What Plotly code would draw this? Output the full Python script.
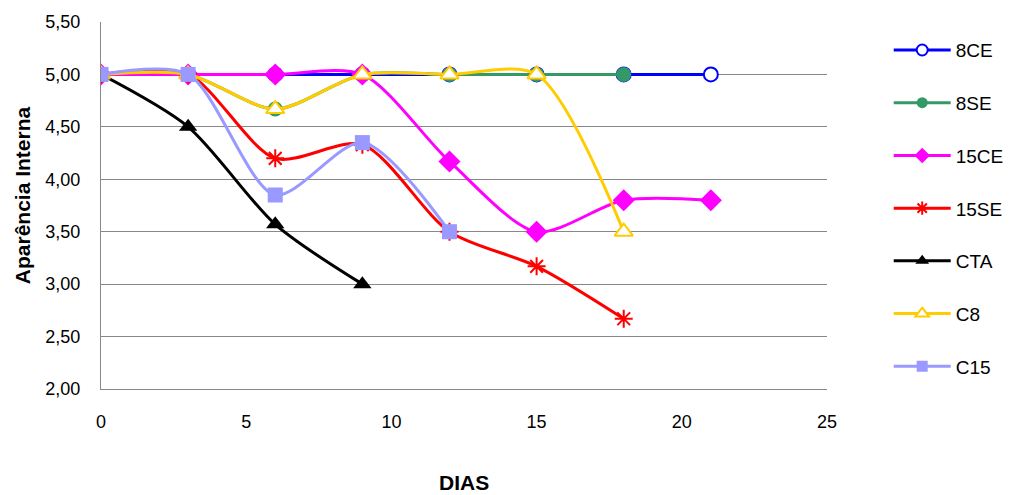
import plotly.graph_objects as go

# Storage days and internal appearance scores per treatment
dias_8ce = [0, 3, 6, 9, 12, 15, 18, 21]
ap_8ce = [5.00, 5.00, 5.00, 5.00, 5.00, 5.00, 5.00, 5.00]

dias_8se = [0, 3, 6, 9, 12, 15, 18]
ap_8se = [5.00, 5.00, 4.67, 5.00, 5.00, 5.00, 5.00]

dias_15ce = [0, 3, 6, 9, 12, 15, 18, 21]
ap_15ce = [5.00, 5.00, 5.00, 5.00, 4.17, 3.50, 3.80, 3.80]

dias_15se = [0, 3, 6, 9, 12, 15, 18]
ap_15se = [5.00, 5.00, 4.20, 4.33, 3.50, 3.17, 2.67]

dias_cta = [0, 3, 6, 9]
ap_cta = [5.00, 4.50, 3.57, 3.00]

dias_c8 = [0, 3, 6, 9, 12, 15, 18]
ap_c8 = [5.00, 5.00, 4.67, 5.00, 5.00, 5.00, 3.50]

dias_c15 = [0, 3, 6, 9, 12]
ap_c15 = [5.00, 5.00, 3.85, 4.35, 3.50]


def mk(symbol, size, color, fill=None, lw=0):
    m = dict(symbol=symbol, size=size, color=fill or color)
    if lw:
        m["line"] = dict(color=color, width=lw)
    return m


series = [
    ("8CE", dias_8ce, ap_8ce, "#0000FF", ("circle", 14, 11, "white", 2)),
    ("8SE", dias_8se, ap_8se, "#339966", ("circle", 15, 11, None, 0)),
    ("15CE", dias_15ce, ap_15ce, "#FF00FF", ("diamond", 17, 12, None, 0)),
    ("15SE", dias_15se, ap_15se, "#FF0000", ("asterisk-open", 15, 11, None, 2)),
    ("CTA", dias_cta, ap_cta, "#000000", ("triangle-up", 16, 12, None, 0)),
    ("C8", dias_c8, ap_c8, "#FFCC00", ("triangle-up", 16, 12, "white", 2)),
    ("C15", dias_c15, ap_c15, "#9999FF", ("square", 15, 11, None, 0)),
]

fig = go.Figure()
for name, xs, ys, color, (sym, size, lsize, fill, lw) in series:
    fig.add_trace(go.Scatter(
        x=xs, y=ys, name=name, mode="lines+markers", showlegend=False,
        line=dict(color=color, width=3, shape="spline", smoothing=0.8),
        marker=mk(sym, size, color, fill, lw), legendgroup=name,
    ))
# legend entries with smaller symbols
for name, xs, ys, color, (sym, size, lsize, fill, lw) in series:
    fig.add_trace(go.Scatter(
        x=[None], y=[None], name=name, mode="lines+markers", showlegend=True,
        line=dict(color=color, width=3),
        marker=mk(sym, lsize, color, fill, lw), legendgroup=name,
    ))

font = "Liberation Sans, Arial, sans-serif"
fig.update_layout(
    width=1012, height=495,
    margin=dict(l=101, r=185, t=22, b=106, autoexpand=False),
    paper_bgcolor="white", plot_bgcolor="white",
    separators=",.",
    font=dict(family=font, size=18, color="black"),
    legend=dict(
        x=1.085, y=0.975, xanchor="left", yanchor="top",
        font=dict(size=19), tracegroupgap=25, itemwidth=57,
        bgcolor="rgba(0,0,0,0)",
    ),
    xaxis=dict(
        range=[0, 25], tickvals=[0, 5, 10, 15, 20, 25], showgrid=False,
        showline=True, linecolor="#888888", linewidth=1, zeroline=False,
        ticks="", ticklabelstandoff=16,
    ),
    yaxis=dict(
        range=[2.0, 5.5], tickvals=[2.0, 2.5, 3.0, 3.5, 4.0, 4.5, 5.0, 5.5],
        tickformat=".2f", showgrid=True, gridcolor="#888888", gridwidth=1,
        showline=True, linecolor="#888888", linewidth=1, zeroline=False,
        ticks="", ticklabelstandoff=16,
    ),
    annotations=[
        dict(text="<b>Aparência Interna</b>", textangle=-90, showarrow=False,
             xref="paper", yref="paper", x=-0.107, y=0.529,
             xanchor="center", yanchor="middle", font=dict(size=21)),
        dict(text="<b>DIAS</b>", showarrow=False,
             xref="paper", yref="paper", x=0.5, y=-0.256,
             xanchor="center", yanchor="middle", font=dict(size=21)),
    ],
)

fig.write_html("out.html")
